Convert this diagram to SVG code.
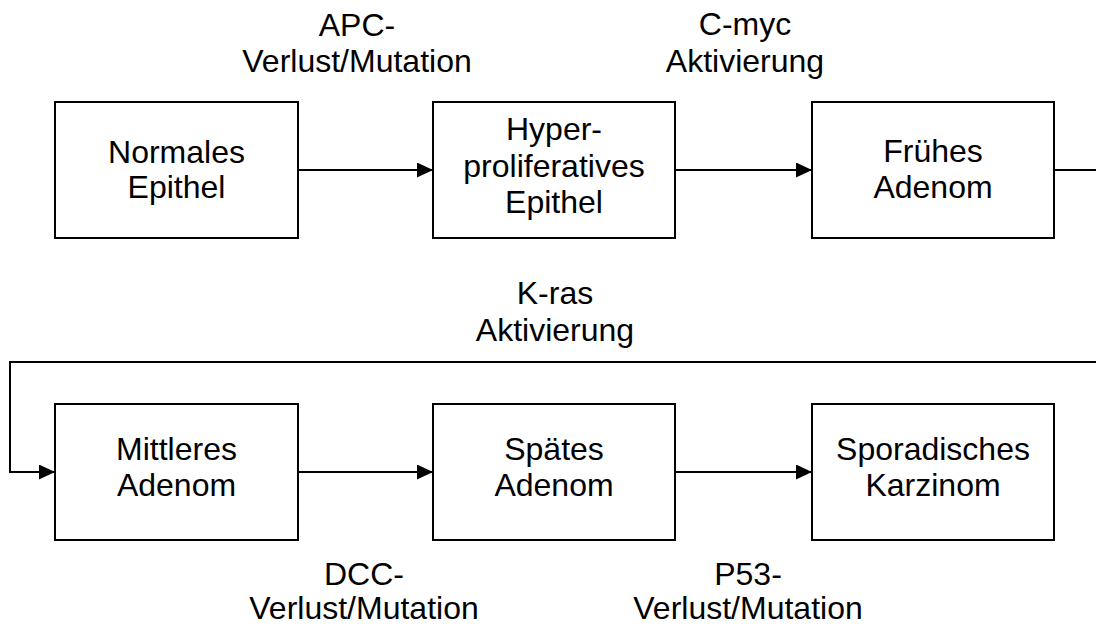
<svg xmlns="http://www.w3.org/2000/svg" width="1096" height="626" viewBox="0 0 1096 626">
<style>
.box{fill:#fff;stroke:#000;stroke-width:2}
.t{font-family:"Liberation Sans",Arial,sans-serif;font-size:32px;fill:#000;text-anchor:middle}
.c{fill:none;stroke:#000;stroke-width:2}
</style>
<defs>
<marker id="ah" markerWidth="16" markerHeight="15" refX="16" refY="7.5" orient="auto" markerUnits="userSpaceOnUse">
<path d="M0,0 L16,7.5 L0,15 Z" fill="#000"/>
</marker>
</defs>
<rect width="1096" height="626" fill="#fff"/>
<g id="connectors">
<line class="c" x1="298" y1="170" x2="433" y2="170" marker-end="url(#ah)"/>
<line class="c" x1="675" y1="170" x2="812" y2="170" marker-end="url(#ah)"/>
<line class="c" x1="1054" y1="170" x2="1100" y2="170"/>
<polyline class="c" points="1100,362 10,362 10,472 55,472" marker-end="url(#ah)"/>
<line class="c" x1="298" y1="472" x2="433" y2="472" marker-end="url(#ah)"/>
<line class="c" x1="675" y1="472" x2="812" y2="472" marker-end="url(#ah)"/>
</g>
<g id="labels">
<text class="t" x="357" y="36">APC-</text>
<text class="t" x="357" y="72">Verlust/Mutation</text>
<text class="t" x="745" y="35">C-myc</text>
<text class="t" x="745" y="72">Aktivierung</text>
<text class="t" x="555" y="304">K-ras</text>
<text class="t" x="555" y="341">Aktivierung</text>
<text class="t" x="364" y="585">DCC-</text>
<text class="t" x="364" y="619">Verlust/Mutation</text>
<text class="t" x="748" y="585">P53-</text>
<text class="t" x="748" y="619">Verlust/Mutation</text>
</g>
<g id="n1">
<rect class="box" x="55" y="102" width="243" height="136"/>
<text class="t" x="176.5" y="163">Normales</text>
<text class="t" x="176.5" y="198">Epithel</text>
</g>
<g id="n2">
<rect class="box" x="433" y="102" width="242" height="136"/>
<text class="t" x="554" y="140">Hyper-</text>
<text class="t" x="554" y="177">proliferatives</text>
<text class="t" x="554" y="213">Epithel</text>
</g>
<g id="n3">
<rect class="box" x="812" y="102" width="242" height="136"/>
<text class="t" x="933" y="162">Frühes</text>
<text class="t" x="933" y="198">Adenom</text>
</g>
<g id="n4">
<rect class="box" x="55" y="404" width="243" height="136"/>
<text class="t" x="176.5" y="460">Mittleres</text>
<text class="t" x="176.5" y="496">Adenom</text>
</g>
<g id="n5">
<rect class="box" x="433" y="404" width="242" height="136"/>
<text class="t" x="554" y="460">Spätes</text>
<text class="t" x="554" y="496">Adenom</text>
</g>
<g id="n6">
<rect class="box" x="812" y="404" width="242" height="136"/>
<text class="t" x="933" y="460">Sporadisches</text>
<text class="t" x="933" y="496">Karzinom</text>
</g>
</svg>
